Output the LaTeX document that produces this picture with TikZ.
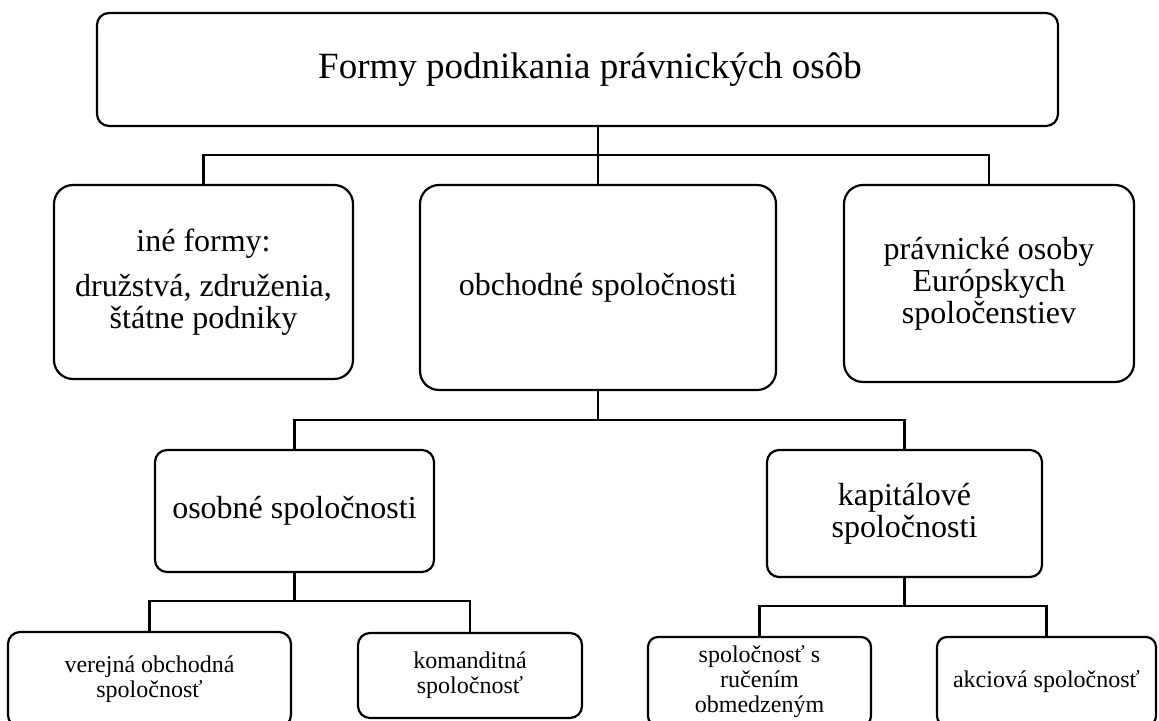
\documentclass[tikz,border=0pt]{standalone}
\usepackage{fontspec}
\setmainfont{Liberation Serif}
\usepackage{tikz}

\begin{document}
\begin{tikzpicture}[x=0.5pt, y=-0.5pt,
        box/.style={draw, line width=1.1pt, align=center, inner sep=0pt},
        bigtext/.style={font=\fontsize{16pt}{16pt}\selectfont},
        smalltext/.style={font=\fontsize{12pt}{12.5pt}\selectfont}]
        \useasboundingbox (0,0) rectangle (1159,721);
        \clip (0,0) rectangle (1159,721);

        \node[box, rounded corners=6pt, minimum width=480.5pt, minimum height=56.5pt, font=\fontsize{18.5pt}{20pt}\selectfont] (formy) at (577.5,69.5) {\hspace*{12.5pt}Formy podnikania právnických osôb};

        \node[box, bigtext, rounded corners=9.5pt, minimum width=149.5pt, minimum height=97pt] (ine) at (203.5,282) {iné formy:\\[6.5pt] družstvá, združenia,\\ štátne podniky};
        \node[box, bigtext, rounded corners=9.5pt, minimum width=178pt, minimum height=102.5pt] (obch) at (598,287.5) {obchodné spoločnosti};
        \node[box, bigtext, rounded corners=9.5pt, minimum width=145pt, minimum height=98.5pt] (eu) at (989,283.5) {právnické osoby\\ Európskych\\ spoločenstiev};

        \node[box, bigtext, rounded corners=6pt, minimum width=139.5pt, minimum height=61pt] (osob) at (294.5,511) {osobné spoločnosti};
        \node[box, bigtext, rounded corners=6pt, minimum width=137.5pt, minimum height=63.5pt] (kap) at (904.5,513.5) {kapitálové\\ spoločnosti};

        \node[box, smalltext, rounded corners=6pt, minimum width=141.5pt, minimum height=47.5pt] (vos) at (149.5,679.5) {verejná obchodná\\ spoločnosť};
        \node[box, smalltext, rounded corners=6pt, minimum width=112pt, minimum height=42.5pt] (ks) at (470,675.5) {komanditná\\ spoločnosť};
        \node[box, smalltext, rounded corners=5pt, minimum width=111.5pt, minimum height=44.5pt] (sro) at (759.5,681.5) {spoločnosť s\\ ručením\\ obmedzeným};
        \node[box, smalltext, rounded corners=5pt, minimum width=109.5pt, minimum height=44.5pt] (as) at (1046.5,681.5) {akciová spoločnosť};

        \coordinate (bus1) at (598,155);
        \coordinate (bus2) at (598,420);
        \coordinate (bus3) at (294.5,601);
        \coordinate (bus4) at (904.5,606);

        \draw[line width=1.1pt] (formy.south -| obch.north) -- (obch.north);
        \draw[line width=1.1pt] (ine.north) |- (bus1) -| (eu.north);
        \draw[line width=1.1pt] (obch.south) -- (bus2);
        \draw[line width=1.1pt] (osob.north) |- (bus2) -| (kap.north);
        \draw[line width=1.1pt] (osob.south) -- (bus3);
        \draw[line width=1.1pt] (vos.north) |- (bus3) -| (ks.north);
        \draw[line width=1.1pt] (kap.south) -- (bus4);
        \draw[line width=1.1pt] (sro.north) |- (bus4) -| (as.north);
    \end{tikzpicture}
\end{document}
